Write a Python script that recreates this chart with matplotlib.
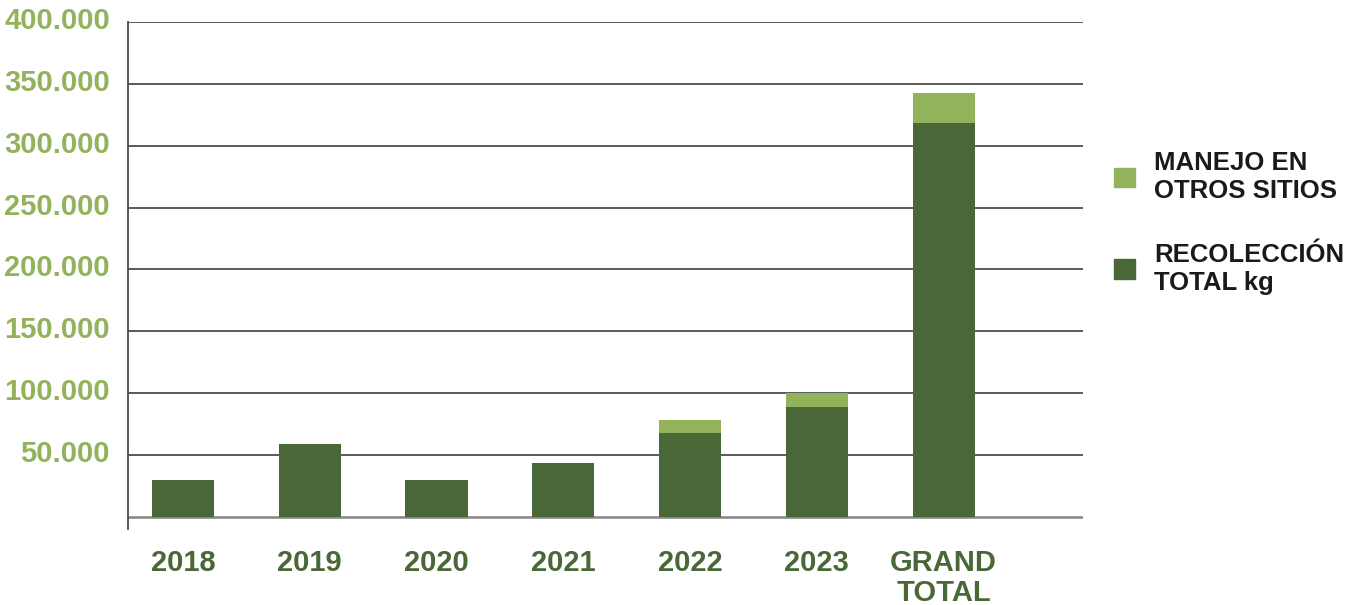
import numpy as np
import matplotlib
matplotlib.use("Agg")
import matplotlib.pyplot as plt
import matplotlib.transforms as mtransforms
from matplotlib.patches import Patch

# data (kg)
categories = ["2018", "2019", "2020", "2021", "2022", "2023", "GRAND\nTOTAL"]
recoleccion = [29700, 58900, 29700, 43500, 67800, 88900, 318200]
manejo_otros = [0, 0, 0, 0, 10500, 11100, 24300]
y_ticks = [50000, 100000, 150000, 200000, 250000, 300000, 350000, 400000]

dark_green = "#4a6737"
light_green = "#92b25b"
grid_col = "#4d4d4d"

plt.rcParams['font.family'] = ['Liberation Sans', 'DejaVu Sans']

fig = plt.figure(figsize=(13.52, 6.05), dpi=100)
ax = fig.add_axes([128/1352, (605-529.3)/605, (1083-128)/1352, 507.3/605])

x = np.arange(len(categories))
ax.bar(x, recoleccion, width=0.49, color=dark_green, zorder=3,
       label="RECOLECCIÓN\nTOTAL kg")
ax.bar(x, manejo_otros, width=0.49, bottom=recoleccion, color=light_green,
       zorder=3, label="MANEJO EN\nOTROS SITIOS")

# horizontal grid lines, baseline a bit lighter
for v in [0] + y_ticks:
    ax.axhline(v, color="#858585" if v == 0 else grid_col,
               lw=1.8 if v == 0 else 1.3, zorder=1)

ax.set_xlim(-0.434, 7.10)
ax.set_ylim(-10000, 400000)

ax.set_yticks(y_ticks)
ax.set_yticklabels([f"{v:,}".replace(",", ".") for v in y_ticks],
                   fontsize=21, fontweight="bold", color=light_green)
ax.tick_params(axis="y", length=0, pad=13)
shift = mtransforms.ScaledTranslation(0, 4/100, fig.dpi_scale_trans)
for lbl in ax.get_yticklabels():
    lbl.set_transform(lbl.get_transform() + shift)

ax.set_xticks(x)
ax.set_xticklabels(categories, fontsize=21, fontweight="bold",
                   color=dark_green, linespacing=1.1, va="top")
ax.tick_params(axis="x", length=0, pad=14)

for s in ["top", "right", "bottom"]:
    ax.spines[s].set_visible(False)
ax.spines["left"].set_color(grid_col)
ax.spines["left"].set_linewidth(1.3)

handles = [Patch(color=light_green), Patch(color=dark_green)]
labels = ["MANEJO EN\nOTROS SITIOS", "RECOLECCIÓN\nTOTAL kg"]
fig.legend(handles, labels, loc="upper left",
           bbox_to_anchor=(1091/1352, 1 - 128/605),
           frameon=False, prop={"size": 18.5, "weight": "bold"},
           handlelength=0.8, handleheight=0.8, handletextpad=0.75,
           labelspacing=1.55, labelcolor="#1a1a1a")

fig.savefig("out.png", dpi=100)
